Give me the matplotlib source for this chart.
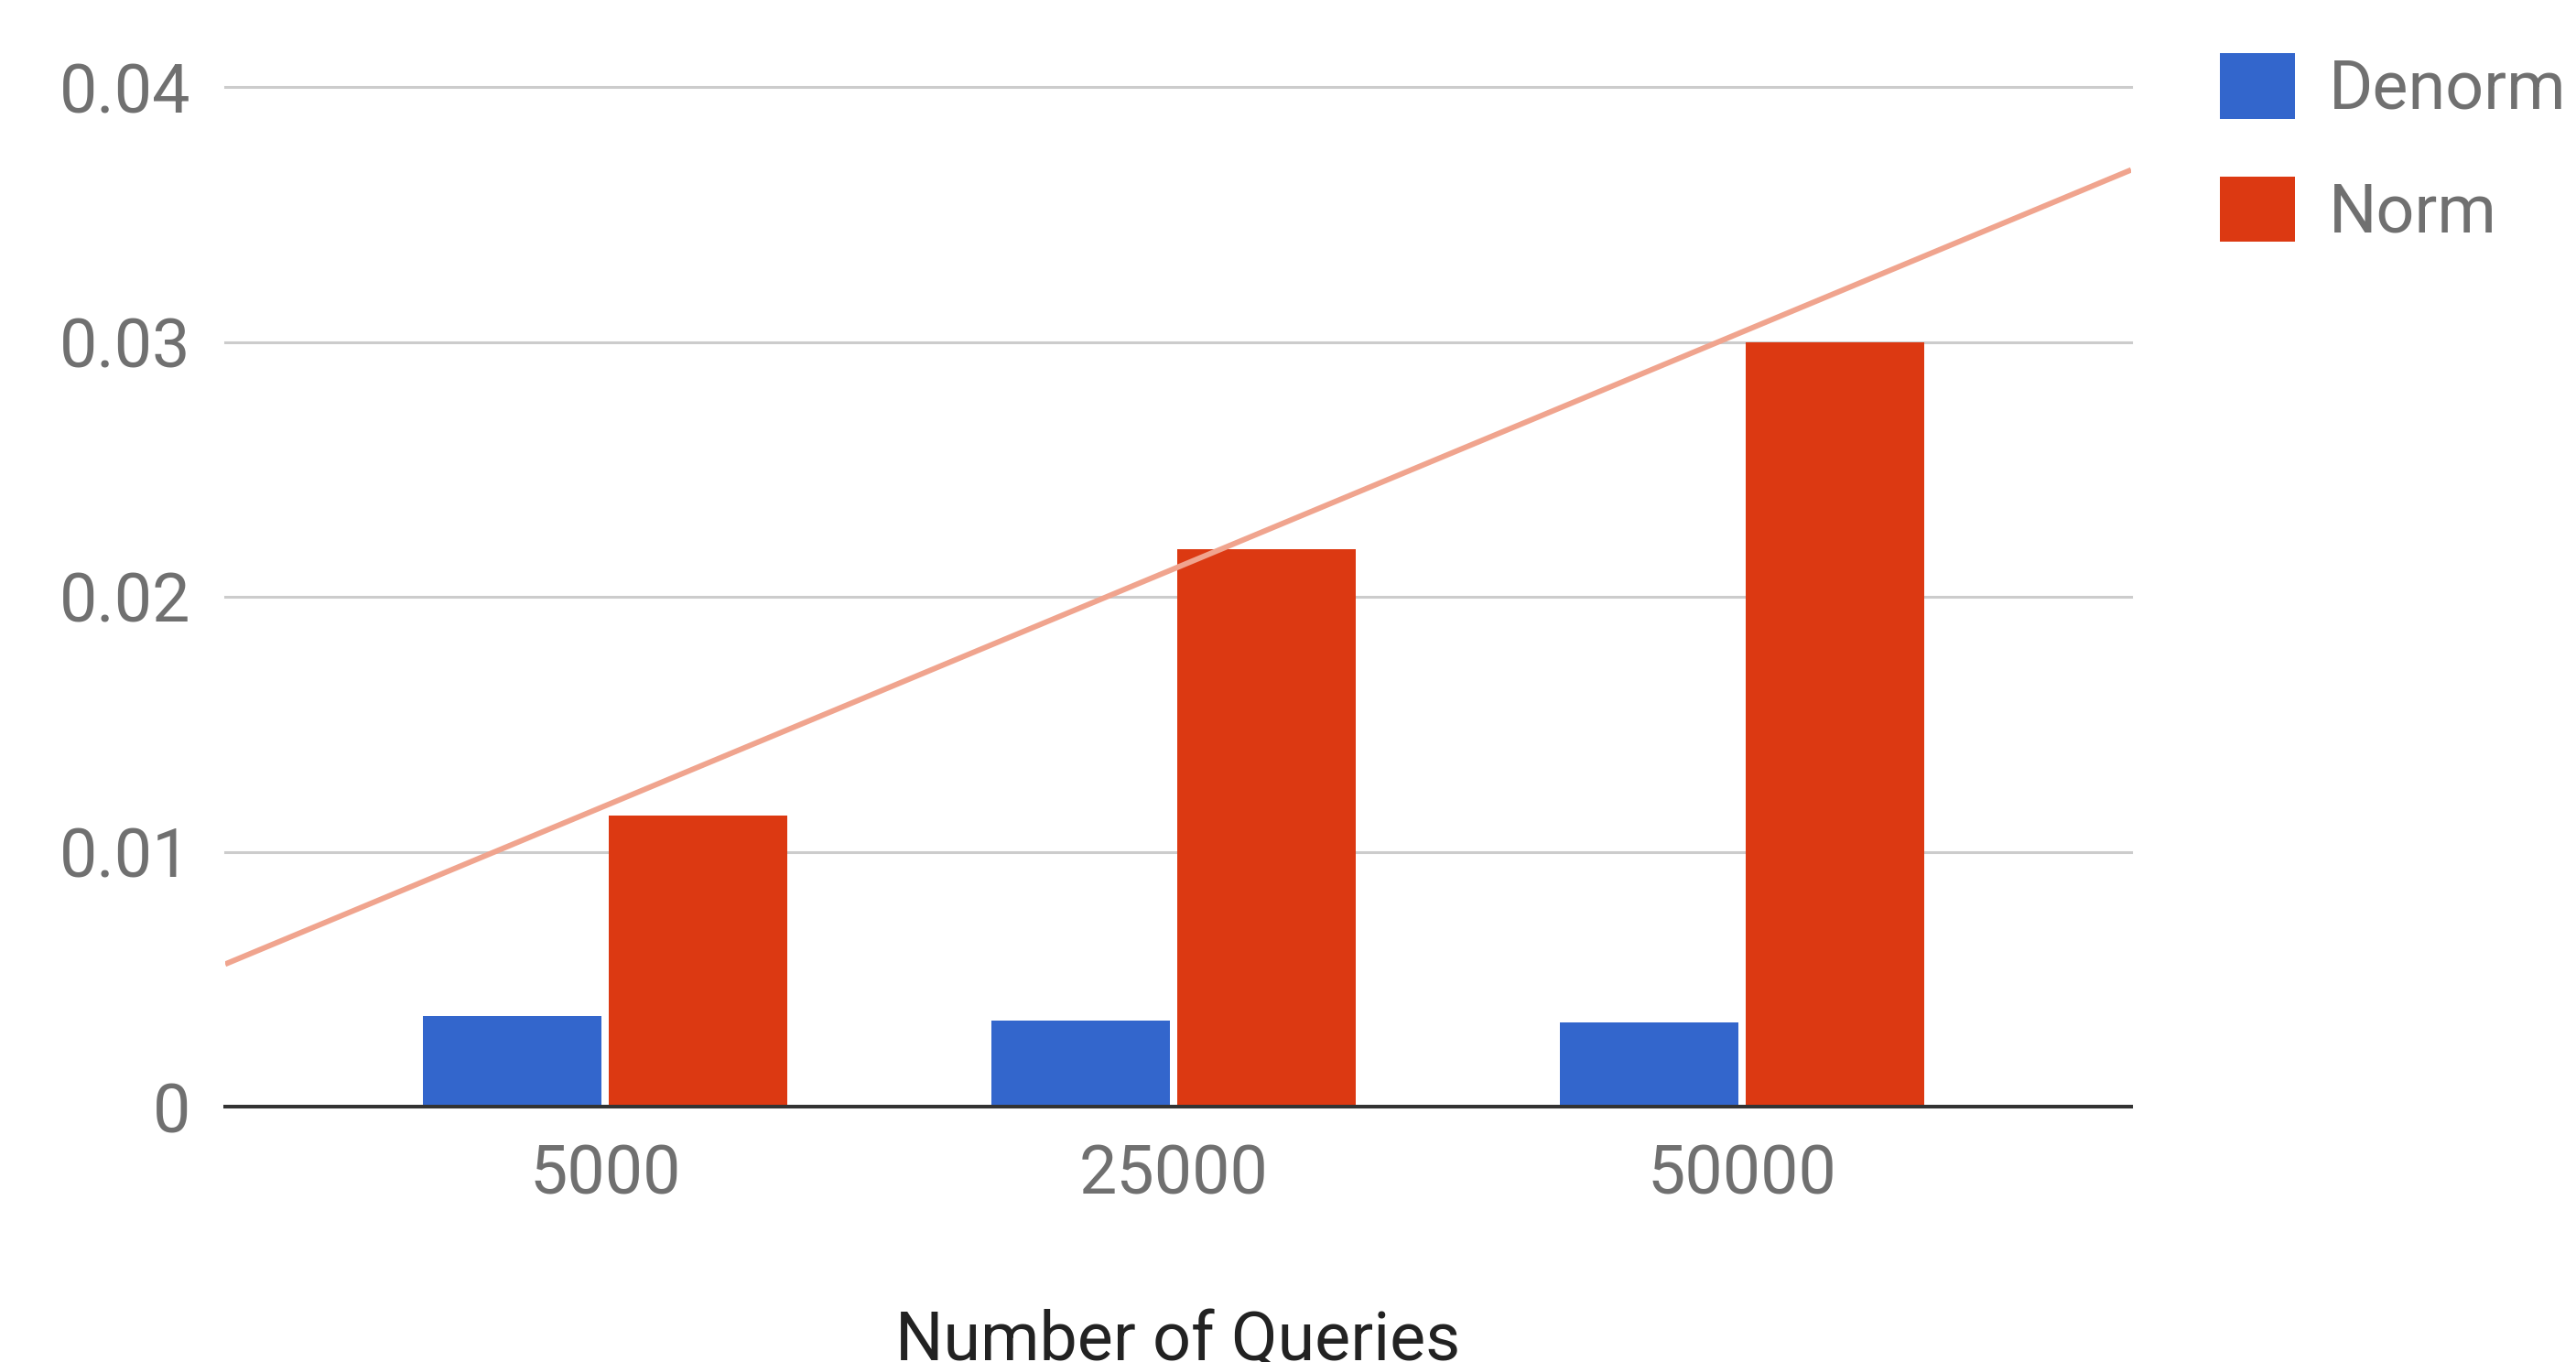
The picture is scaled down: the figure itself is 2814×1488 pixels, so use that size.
import numpy as np
import matplotlib
matplotlib.use("Agg")
import matplotlib.pyplot as plt

# Average time per query for each workload size
categories = ["5000", "25000", "50000"]
denorm = [0.00356, 0.00338, 0.00330]
norm = [0.01141, 0.02187, 0.0300]
series_names = ["Denorm", "Norm"]
y_ticks = [0, 0.01, 0.02, 0.03, 0.04]

BLUE = "#3366cc"
RED = "#dc3912"
TICK_GREY = "#707070"

plt.rcParams["font.family"] = ["Roboto", "DejaVu Sans"]

W, H = 2814, 1488
fig = plt.figure(figsize=(W / 100, H / 100), dpi=100)
ax = fig.add_axes([246 / W, 1 - 1209 / H, (2328 - 246) / W, (1209 - 95) / H])

x = np.arange(len(categories))
width = 0.314
off = 0.163
b1 = ax.bar(x - off, denorm, width, color=BLUE, label=series_names[0], zorder=3)
b2 = ax.bar(x + off, norm, width, color=RED, label=series_names[1], zorder=3)

# linear trendline fitted to the Norm series, spanning the plot width
xlim = (-0.668, 2.684)
slope, intercept = np.polyfit(x, norm, 1)
tx = np.array(xlim)
ax.plot(tx, slope * tx + intercept, color="#f0a48e", lw=4.3, zorder=4,
        solid_capstyle="butt")

ax.set_xlim(*xlim)
ax.set_ylim(0, 0.04)
ax.set_yticks(y_ticks)
ax.set_yticklabels(["0" if v == 0 else f"{v:.2f}" for v in y_ticks])
ax.set_xticks(x)
ax.set_xticklabels(categories)

ax.grid(axis="y", color="#cccccc", lw=2.2, zorder=0)
for gl in ax.get_ygridlines():
    gl.set_clip_on(False)
ax.axhline(0, color="#333333", lw=2.9, zorder=5, clip_on=False)

for s in ax.spines.values():
    s.set_visible(False)

ax.tick_params(axis="both", length=0, labelsize=53, labelcolor=TICK_GREY)
ax.tick_params(axis="y", pad=27)
ax.tick_params(axis="x", pad=28.5)

ax.set_xlabel("Number of Queries", fontsize=53, color="#222222", labelpad=80)

fig.legend(handles=[b1, b2], labels=series_names, loc="upper left",
           bbox_to_anchor=(2425 / W, 1 - 58 / H), frameon=False,
           fontsize=53, handlelength=1.12, handleheight=1.12,
           handletextpad=0.50, labelspacing=0.80, borderpad=0,
           borderaxespad=0, labelcolor=TICK_GREY)

fig.savefig("out.png", dpi=100, facecolor="white")
